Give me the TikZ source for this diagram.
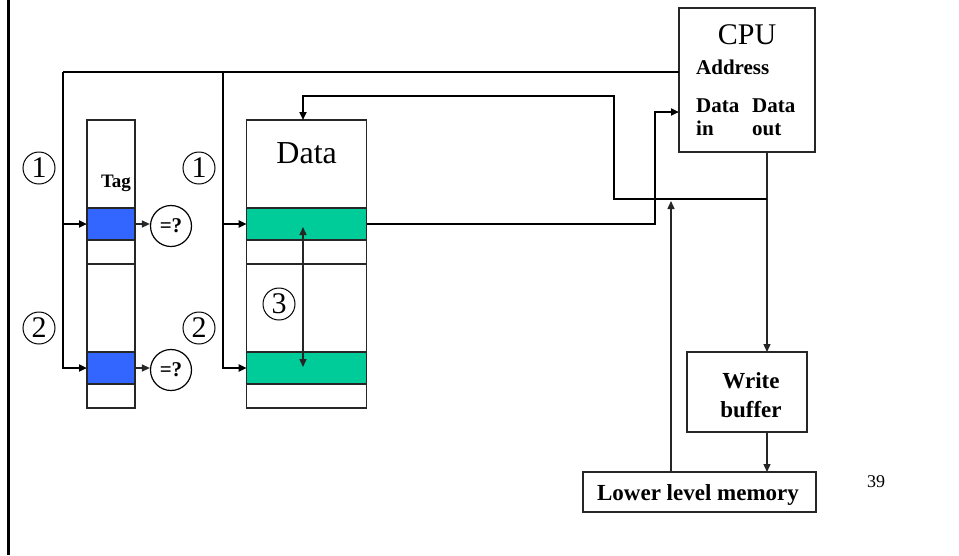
\documentclass[tikz,border=0pt]{standalone}
\usepackage{fontspec}
\setmainfont{Liberation Serif}
\usetikzlibrary{arrows.meta}
\definecolor{tagblue}{HTML}{3366FF}
\definecolor{datagreen}{HTML}{00CC99}
\newcommand{\fs}[1]{\fontsize{#1}{#1}\selectfont}
\begin{document}
\begin{tikzpicture}[x=1pt,y=-1pt,
  box/.style={draw=black!85,line width=1.4pt,inner sep=0pt,outer sep=0pt},
  bus/.style={line width=2.6pt,black},
  wire/.style={line width=1.4pt,black!85},
  tip/.style={-{Triangle[length=8pt,width=7pt]}},
  both/.style={{Triangle[length=8pt,width=7pt]}-{Triangle[length=8pt,width=7pt]}},
  num/.style={draw,circle,line width=1pt,minimum size=32pt,inner sep=0pt,font=\fs{30}},
  cmp/.style={draw,circle,line width=1.2pt,minimum size=41pt,inner sep=0pt,font=\fs{21}\bfseries},
  lbl/.style={inner sep=0pt,anchor=base}]
\useasboundingbox (0,0) rectangle (959,555);
% left border
\draw[line width=3pt] (8,0) -- (8,555);
% tag array
\node[box,minimum width=48pt,minimum height=288pt] (tag) at (111,264) {};
\node[box,fill=tagblue,minimum width=48pt,minimum height=32pt] (trow1) at (111,224) {};
\node[box,fill=tagblue,minimum width=48pt,minimum height=32pt] (trow2) at (111,368) {};
\draw[box] (tag.west |- 0,264) -- (tag.east |- 0,264);
\node[lbl,font=\fs{19}\bfseries] (taglbl) at (116,187) {Tag};
% data array
\node[box,minimum width=120pt,minimum height=288pt] (data) at (306.7,264) {};
\node[box,fill=datagreen,minimum width=120pt,minimum height=32pt] (drow1) at (306.7,224) {};
\node[box,fill=datagreen,minimum width=120pt,minimum height=32pt] (drow2) at (306.7,368) {};
\draw[box] (data.west |- 0,264) -- (data.east |- 0,264);
\node[lbl,font=\fs{32}] (datalbl) at (306.7,163) {Data};
% comparators
\node[cmp] (cmp1) at (171,226) {=?};
\node[cmp] (cmp2) at (171,370) {=?};
% circled numbers
\node[num] (n1a) at (39,168) {1};
\node[num] (n1b) at (199,168) {1};
\node[num] (n2a) at (39,328) {2};
\node[num] (n2b) at (199,328) {2};
\node[num] (n3) at (279,304) {3};
% CPU
\node[box,minimum width=136pt,minimum height=144pt] (cpu) at (747,80) {};
\node[lbl,font=\fs{30}] (cpulbl) at (747,44) {CPU};
\node[lbl,anchor=base west,font=\fs{21}\bfseries] (addr) at (696,74) {Address};
\node[lbl,anchor=base west,font=\fs{21}\bfseries] (din1) at (696,112) {Data};
\node[lbl,anchor=base west,font=\fs{21}\bfseries] (din2) at (696,135) {in};
\node[lbl,anchor=base west,font=\fs{21}\bfseries] (dout1) at (752,112) {Data};
\node[lbl,anchor=base west,font=\fs{21}\bfseries] (dout2) at (752,135) {out};
% write buffer and memory
\node[box,minimum width=120pt,minimum height=80pt] (wb) at (747,392) {};
\node[lbl,font=\fs{23}\bfseries] (wb1) at (751,388) {Write};
\node[lbl,font=\fs{23}\bfseries] (wb2) at (751,417) {buffer};
\node[box,minimum width=233pt,minimum height=40pt] (mem) at (699.5,492) {};
\node[lbl,font=\fs{23}\bfseries] (memlbl) at (698,500) {Lower level memory};
\node[lbl,font=\fs{18}] (page) at (876,487) {39};
% coordinates
\coordinate (a1) at (63,72);
\coordinate (a2) at (223,72);
\coordinate (din) at (655,112);
\coordinate (dout) at (767,199);
\coordinate (dtop) at (614,96);
\coordinate (dx) at (303,96);
\coordinate (mup) at (671,201);
\coordinate (r1) at (303,227);
\coordinate (r2) at (303,367);
% address bus
\draw[bus] (cpu.west |- a1) -- (a1);
\draw[bus,tip] (a1) |- (trow2.west);
\draw[bus,tip] (a1 |- trow1.west) -- (trow1.west);
\draw[bus,tip] (a2) |- (drow2.west);
\draw[bus,tip] (a2 |- drow1.west) -- (drow1.west);
% compare arrows
\draw[wire,tip] (trow1.east) -- (trow1.east -| cmp1.west);
\draw[wire,tip] (trow2.east) -- (trow2.east -| cmp2.west);
% data in
\draw[bus,tip] (drow1.east) -| (din) -- (din -| cpu.west);
% data out
\draw[wire,tip] (cpu.south -| dout) -- (wb.north -| dout);
\draw[bus,tip] (dout) -| (dtop) -- (dx) -- (dx |- data.north);
\draw[wire,tip] (wb.south -| dout) -- (mem.north -| dout);
\draw[wire,tip] (mem.north -| mup) -- (mup);
% block move
\draw[wire,both] (r1) -- (r2);
\end{tikzpicture}
\end{document}
